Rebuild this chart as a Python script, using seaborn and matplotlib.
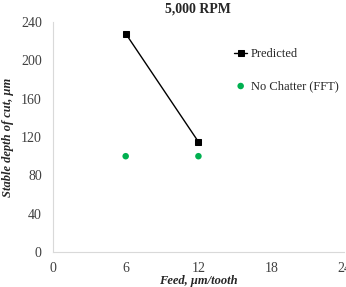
import pandas as pd
import matplotlib
matplotlib.use('Agg')
import matplotlib.pyplot as plt
import seaborn as sns

feed = [6, 12]
predicted = [228, 115]
no_chatter = [100, 100]

sns.set_style('white')
plt.rcParams['font.family'] = ['Liberation Serif', 'DejaVu Serif']

df = pd.DataFrame({'feed': feed, 'predicted': predicted, 'no_chatter': no_chatter})

fig = plt.figure(figsize=(3.46, 2.87), dpi=100)
ax = fig.add_axes([0.153, 0.122, 0.841, 0.801])

sns.lineplot(x='feed', y='predicted', data=df, ax=ax, color='black', marker='s',
             markersize=5, linewidth=1, markeredgecolor='black', label='Predicted')
sns.scatterplot(x='feed', y='no_chatter', data=df, ax=ax, color='#00B050', s=22,
                edgecolor='none', label='No Chatter (FFT)')

ax.set_xlim(0, 24)
ax.set_ylim(0, 240)
ax.set_xticks([0, 6, 12, 18, 24])
ax.set_yticks(range(0, 241, 40))
ax.tick_params(axis='y', labelsize=10, length=0, pad=8, colors='#404040')
ax.tick_params(axis='x', labelsize=10, length=0, pad=7, colors='#404040')
for s in ['top', 'right']:
    ax.spines[s].set_visible(False)
for s in ['left', 'bottom']:
    ax.spines[s].set_color('#d9d9d9')
ax.set_title('5,000 RPM', fontsize=10, fontweight='bold', pad=7)
ax.set_xlabel('Feed, μm/tooth', fontsize=9, fontweight='bold', style='italic', labelpad=0)
ax.set_ylabel('Stable depth of cut, μm', fontsize=9, fontweight='bold', style='italic', labelpad=5)
ax.legend(loc='upper left', bbox_to_anchor=(0.585, 0.935), frameon=False, fontsize=9,
          handlelength=1.0, handletextpad=0.3, labelspacing=1.6)

fig.savefig('out.png', dpi=100)
